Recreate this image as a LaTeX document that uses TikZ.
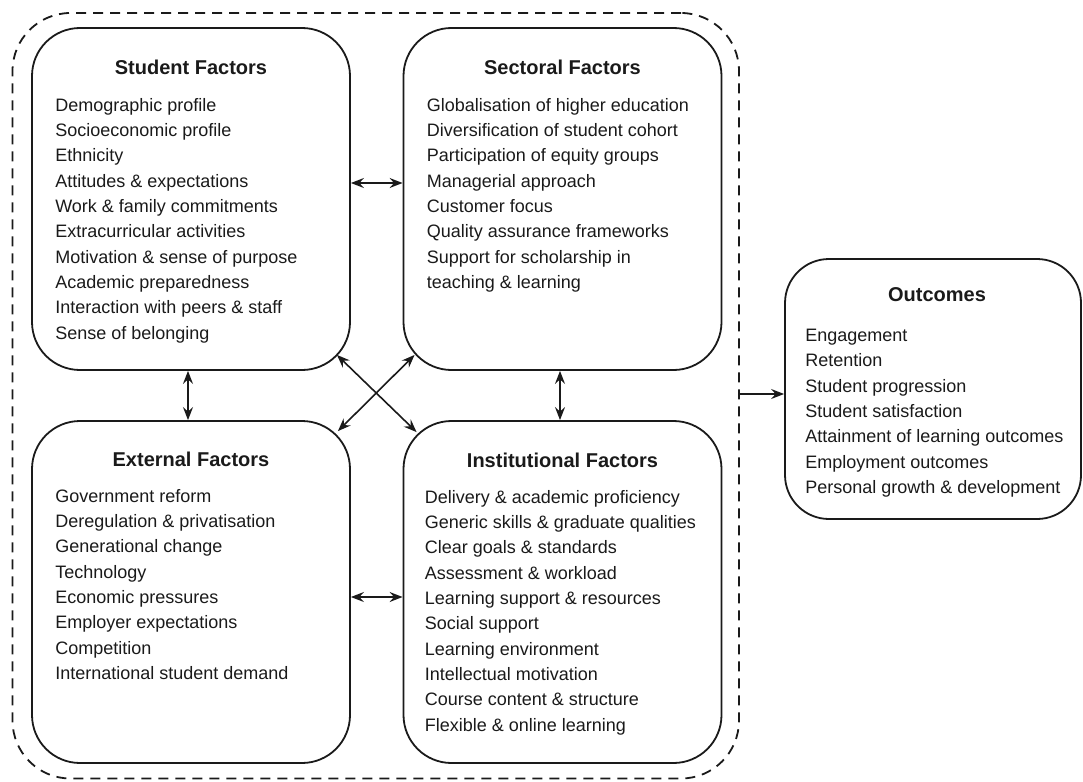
\documentclass[tikz,border=0pt]{standalone}
\usepackage{fontspec}
\setmainfont{Liberation Sans}
\usetikzlibrary{arrows.meta}
\definecolor{ink}{HTML}{1A1A1A}

\tikzset{
  factorbox/.style={draw=ink, line width=1.8pt, rounded corners=48pt,
    minimum width=318pt, minimum height=342pt, inner sep=0pt},
  heading/.style={font=\fontsize{20}{24}\selectfont\bfseries, text=ink,
    anchor=base, inner sep=0pt},
  items/.style={font=\fontsize{18}{25.3}\selectfont, text=ink, align=left,
    anchor=north west, inner sep=0pt},
  link/.style={draw=ink, line width=1.6pt,
    {Stealth[length=13pt,width=10pt,inset=4.5pt]}-{Stealth[length=13pt,width=10pt,inset=4.5pt]}},
  feed/.style={draw=ink, line width=1.6pt, -{Stealth[length=13pt,width=10pt,inset=4.5pt]}},
  frame/.style={draw=ink, line width=1.8pt, dash pattern=on 10pt off 7pt,
    rounded corners=58pt, inner sep=0pt}
}

\begin{document}
\begin{tikzpicture}[x=1pt,y=-1pt]
\useasboundingbox (0,0) rectangle (1083,781);

% dashed envelope around the four groups of factors
\node[frame, minimum width=726.5pt, minimum height=765.5pt] (frame) at (375.75,395.75) {};

% the four factor boxes and the outcomes box
\node[factorbox] (student) at (191,199) {};
\node[factorbox] (sectoral) at (562.5,199) {};
\node[factorbox] (external) at (191,592) {};
\node[factorbox] (institutional) at (562.5,592) {};
\node[factorbox, minimum width=296pt, minimum height=260pt, rounded corners=44pt] (outcomes) at (933,389) {};

% headings
\node[heading] (studentT) at ([yshift=-47pt]student.north) {Student Factors};
\node[heading] (sectoralT) at ([yshift=-47pt]sectoral.north) {Sectoral Factors};
\node[heading] (externalT) at ([yshift=-46pt]external.north) {External Factors};
\node[heading] (institutionalT) at ([yshift=-47pt]institutional.north) {Institutional Factors};
\node[heading] (outcomesT) at ([xshift=4pt,yshift=-43pt]outcomes.north) {Outcomes};

% item lists
\node[items] (studentL) at ([xshift=24pt,yshift=-71pt]student.north west) {%
Demographic profile\\
Socioeconomic profile\\
Ethnicity\\
Attitudes \& expectations\\
Work \& family commitments\\
Extracurricular activities\\
Motivation \& sense of purpose\\
Academic preparedness\\
Interaction with peers \& staff\\
Sense of belonging};

\node[items] (sectoralL) at ([xshift=24pt,yshift=-71pt]sectoral.north west) {%
Globalisation of higher education\\
Diversification of student cohort\\
Participation of equity groups\\
Managerial approach\\
Customer focus\\
Quality assurance frameworks\\
Support for scholarship in\\
teaching \& learning};

\node[items] (externalL) at ([xshift=24pt,yshift=-69pt]external.north west) {%
Government reform\\
Deregulation \& privatisation\\
Generational change\\
Technology\\
Economic pressures\\
Employer expectations\\
Competition\\
International student demand};

\node[items] (institutionalL) at ([xshift=22pt,yshift=-70pt]institutional.north west) {%
Delivery \& academic proficiency\\
Generic skills \& graduate qualities\\
Clear goals \& standards\\
Assessment \& workload\\
Learning support \& resources\\
Social support\\
Learning environment\\
Intellectual motivation\\
Course content \& structure\\
Flexible \& online learning};

\node[items] (outcomesL) at ([xshift=21pt,yshift=-71pt]outcomes.north west) {%
Engagement\\
Retention\\
Student progression\\
Student satisfaction\\
Attainment of learning outcomes\\
Employment outcomes\\
Personal growth \& development};

% mutual influences between the factor groups
\draw[link] ([yshift=16pt]student.east) -- ([yshift=16pt]sectoral.west);
\draw[link] ([yshift=-5pt]external.east) -- ([yshift=-5pt]institutional.west);
\draw[link] ([xshift=-3pt]student.south) -- ([xshift=-3pt]external.north);
\draw[link] ([xshift=-2.5pt]sectoral.south) -- ([xshift=-2.5pt]institutional.north);
\draw[link] ([shift={(-14pt,16pt)}]student.south east) -- ([shift={(14pt,-12pt)}]institutional.north west);
\draw[link] ([shift={(-13pt,-11pt)}]external.north east) -- ([shift={(12pt,16pt)}]sectoral.south west);

% all factors feed into the outcomes
\coordinate (into) at ([yshift=-5pt]outcomes.west);
\draw[feed] (into -| frame.east) -- (into);
\end{tikzpicture}
\end{document}
